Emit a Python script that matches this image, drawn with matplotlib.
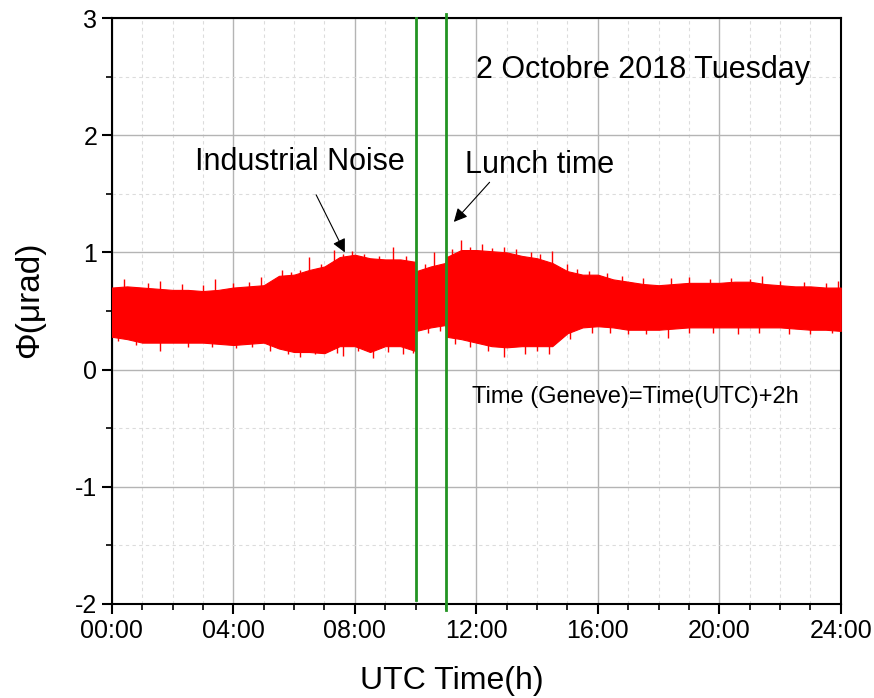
import matplotlib
matplotlib.use("Agg")
import matplotlib.pyplot as plt
from matplotlib.ticker import MultipleLocator, FuncFormatter

plt.rcParams['font.family'] = ['Liberation Sans', 'DejaVu Sans']
plt.rcParams['axes.unicode_minus'] = False

# --- data (hours UTC, phase in µrad) ---
hours = [0, 0.5, 1, 1.5, 2, 2.5, 3, 3.5, 4, 4.5, 5, 5.5, 6, 6.5, 7, 7.5, 8, 8.5,
         9, 9.5, 9.98, 10.02, 10.5, 10.98, 11.02, 11.5, 12, 12.5, 13, 13.5, 14,
         14.5, 15, 15.5, 16, 16.5, 17, 17.5, 18, 18.5, 19, 19.5, 20, 20.5, 21,
         21.5, 22, 22.5, 23, 23.5, 24]
upper = [0.70, 0.71, 0.70, 0.69, 0.68, 0.68, 0.67, 0.68, 0.70, 0.71, 0.72, 0.80,
         0.81, 0.85, 0.88, 0.96, 0.98, 0.95, 0.94, 0.94, 0.92, 0.84, 0.88, 0.91,
         0.96, 1.02, 1.02, 1.01, 1.00, 0.97, 0.95, 0.91, 0.84, 0.81, 0.81, 0.77,
         0.75, 0.73, 0.72, 0.73, 0.74, 0.74, 0.74, 0.75, 0.75, 0.73, 0.72, 0.71,
         0.71, 0.70, 0.70]
lower = [0.28, 0.26, 0.23, 0.23, 0.23, 0.23, 0.23, 0.22, 0.21, 0.22, 0.23, 0.18,
         0.15, 0.15, 0.14, 0.20, 0.20, 0.15, 0.20, 0.20, 0.16, 0.33, 0.36, 0.38,
         0.28, 0.26, 0.23, 0.20, 0.19, 0.20, 0.20, 0.20, 0.31, 0.36, 0.37, 0.36,
         0.34, 0.34, 0.34, 0.35, 0.36, 0.36, 0.36, 0.36, 0.36, 0.36, 0.36, 0.35,
         0.34, 0.34, 0.33]
spike_up_t = [0.4, 1.2, 1.6, 2.3, 3.0, 3.4, 4.0, 4.5, 4.9, 5.6, 5.9, 6.2, 6.5,
              6.9, 7.3, 7.6, 7.9, 8.3, 8.8, 9.26, 9.7, 10.3, 10.6, 11.2, 11.5,
              11.8, 12.2, 12.5, 12.9, 13.3, 13.8, 14.1, 14.5, 15.0, 15.3, 15.7,
              16.3, 16.8, 17.5, 18.4, 19.0, 19.7, 20.4, 21.0, 21.4, 22.0, 22.8,
              23.5, 23.9]
spike_up_v = [0.77, 0.74, 0.76, 0.73, 0.72, 0.77, 0.74, 0.75, 0.79, 0.85, 0.83,
              0.85, 0.96, 0.90, 1.02, 0.99, 1.01, 0.99, 0.97, 1.05, 0.97, 0.90,
              1.00, 1.03, 1.11, 1.05, 1.07, 1.04, 1.05, 1.03, 1.00, 0.99, 1.01,
              0.90, 0.86, 0.84, 0.82, 0.80, 0.78, 0.78, 0.79, 0.77, 0.78, 0.77,
              0.80, 0.76, 0.75, 0.74, 0.76]
spike_dn_t = [0.2, 0.8, 1.6, 2.5, 3.3, 4.1, 4.6, 5.2, 5.8, 6.2, 6.7, 7.4, 7.6,
              8.1, 8.6, 9.1, 9.6, 9.9, 10.4, 10.8, 11.3, 11.8, 12.4, 12.9, 13.6,
              14.0, 14.4, 15.1, 15.8, 16.4, 17.0, 17.6, 18.3, 19.0, 19.8, 20.6,
              21.3, 22.3, 23.0, 23.7]
spike_dn_v = [0.24, 0.21, 0.16, 0.19, 0.19, 0.18, 0.19, 0.16, 0.13, 0.11, 0.13,
              0.14, 0.12, 0.16, 0.10, 0.15, 0.13, 0.14, 0.31, 0.33, 0.22, 0.19,
              0.16, 0.11, 0.13, 0.16, 0.13, 0.26, 0.31, 0.31, 0.30, 0.30, 0.27,
              0.31, 0.31, 0.30, 0.31, 0.30, 0.30, 0.31]
event_t = [10.0, 11.0]
xtick_hours = [0, 4, 8, 12, 16, 20, 24]

RED = '#ff0000'
GREEN = '#229422'

fig = plt.figure(figsize=(8.74, 6.98), dpi=100)
ax = fig.add_axes([0.128, 0.1347, 0.834, 0.8395])

ax.fill_between(hours, lower, upper, color=RED, lw=0.8, edgecolor=RED, zorder=3)
ax.vlines(spike_up_t, [u - 0.2 for u in spike_up_v], spike_up_v, color=RED, lw=1.0, zorder=3)
ax.vlines(spike_dn_t, spike_dn_v, [d + 0.2 for d in spike_dn_v], color=RED, lw=1.0, zorder=3)

ax.plot([event_t[0], event_t[0]], [-1.97, 3.0], color=GREEN, lw=2, zorder=4, clip_on=False)
ax.plot([event_t[1], event_t[1]], [-2.05, 3.03], color=GREEN, lw=2, zorder=4, clip_on=False)

ax.set_xlim(0, 24)
ax.set_ylim(-2, 3)
ax.set_xticks(xtick_hours)
ax.xaxis.set_major_formatter(FuncFormatter(lambda v, p: f"{int(round(v)):02d}:00"))
ax.xaxis.set_minor_locator(MultipleLocator(1))
ax.yaxis.set_major_locator(MultipleLocator(1))
ax.yaxis.set_minor_locator(MultipleLocator(0.5))

ax.grid(which='major', color='#b4b4b4', lw=1.0, ls='-', zorder=0)
ax.grid(which='minor', color='#dcdcdc', lw=0.8, ls=(0, (3, 3)), zorder=0)
ax.set_axisbelow(True)

for s in ax.spines.values():
    s.set_linewidth(1.5)
    s.set_color('black')
ax.tick_params(which='major', direction='out', length=7, width=1.5, labelsize=18)
ax.tick_params(which='minor', direction='out', length=4, width=1.2)

ax.set_xlabel('UTC Time(h)', fontsize=23)
ax.xaxis.set_label_coords(0.466, -0.105)
ax.set_ylabel('Φ(μrad)', fontsize=24)
ax.yaxis.set_label_coords(-0.092, 0.52)

ax.text(17.48, 2.56, '2 Octobre 2018 Tuesday', fontsize=22, ha='center', va='center')
ax.text(17.25, -0.23, 'Time (Geneve)=Time(UTC)+2h', fontsize=17, ha='center', va='center')
ax.annotate('Industrial Noise', xy=(7.67, 1.0), xytext=(6.19, 1.77), fontsize=22,
            ha='center', va='center',
            arrowprops=dict(arrowstyle='-|>', color='black', lw=0.8, mutation_scale=20,
                            shrinkA=12, shrinkB=0))
ax.annotate('Lunch time', xy=(11.26, 1.26), xytext=(14.09, 1.75), fontsize=22,
            ha='center', va='center',
            arrowprops=dict(arrowstyle='-|>', color='black', lw=0.8, mutation_scale=20,
                            shrinkA=0, shrinkB=0, relpos=(0.18, 0.0)))

fig.savefig('out.png', dpi=100)
